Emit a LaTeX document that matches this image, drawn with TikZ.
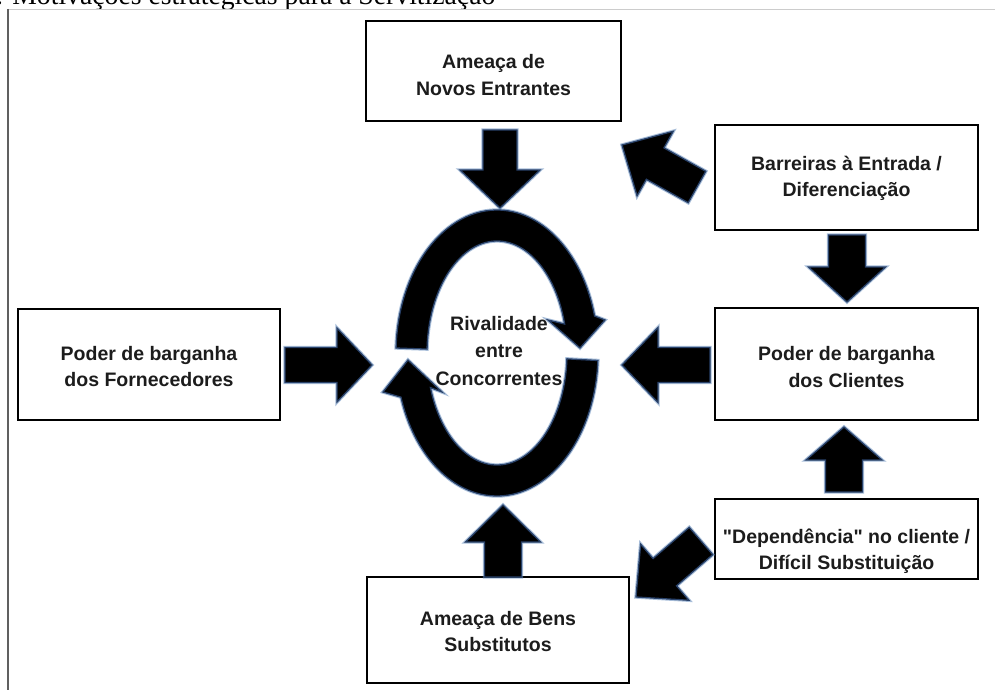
\documentclass[tikz,border=0pt]{standalone}
\usepackage{fontspec}
\setmainfont{Liberation Sans}[Ligatures=TeXOff]
\newfontfamily\titlefont{Liberation Serif}
\usetikzlibrary{calc}
\definecolor{arrowedge}{RGB}{40,65,105}
\definecolor{arrowglow}{RGB}{95,135,185}
\definecolor{textc}{RGB}{28,28,28}
\tikzset{
  box/.style={draw=black, line width=2.8pt, fill=white, inner sep=0pt},
  boxtext/.style={align=center, inner sep=0pt,
    font=\fontsize{19.5}{26.5}\selectfont\bfseries, text=textc},
  blockarrow/.style={fill=black, draw=arrowedge, line width=1.3pt, line join=miter,
    preaction={draw=arrowglow, line width=3.4pt, opacity=0.55}},
}
\newcommand\blkarrow[5]{% tail, tip, shaft half width, head half width, head length
  \coordinate (ba-h) at ($(#2)!#5!(#1)$);
  \draw[blockarrow] ($(#1)!#3!90:(#2)$) -- ($(ba-h)!#3!90:(#2)$) -- ($(ba-h)!#4!90:(#2)$)
    -- (#2) -- ($(ba-h)!#4!-90:(#2)$) -- ($(ba-h)!#3!-90:(#2)$) -- ($(#1)!#3!-90:(#2)$) -- cycle;
}
\begin{document}
\begin{tikzpicture}[x=1pt,y=-1pt]
\useasboundingbox (0,0) rectangle (995,690);
\clip (0,0) rectangle (995,690);
% title and frame
\node[anchor=base west, inner sep=0pt, font=\titlefont\fontsize{27.7}{30}\selectfont] (title) at (-4,5) {. Motivações estratégicas para a Servitização};
\draw[gray!40, line width=1.6pt] (7,9.5) -- (995,9.5);
\draw[gray!75!black, line width=2pt] (7.5,9) -- (7.5,690);

% boxes
\node[box, minimum width=255pt, minimum height=100pt] (novos) at (493.5,71) {};
\node[box, minimum width=263pt, minimum height=105pt] (barreiras) at (846.5,177.5) {};
\node[box, minimum width=263pt, minimum height=112pt] (clientes) at (846.5,364) {};
\node[box, minimum width=263pt, minimum height=80pt] (depend) at (846.5,539) {};
\node[box, minimum width=262pt, minimum height=111pt] (fornec) at (149,364.5) {};
\node[box, minimum width=262pt, minimum height=106pt] (bens) at (498,630) {};
\node[boxtext] (novos-t) at ($(novos.center)+(0,4)$) {Ameaça de\\Novos Entrantes};
\node[boxtext] (barreiras-t) at ($(barreiras.center)+(0,1)$) {Barreiras à Entrada /\\Diferenciação};
\node[boxtext] (clientes-t) at ($(clientes.center)+(0,3)$) {Poder de barganha\\dos Clientes};
\node[boxtext] (depend-t) at ($(depend.center)+(0,12)$) {"Dependência" no cliente /\\Difícil Substituição};
\node[boxtext] (fornec-t) at ($(fornec.center)+(0,2)$) {Poder de barganha\\dos Fornecedores};
\node[boxtext] (bens-t) at ($(bens.center)+(0,1.5)$) {Ameaça de Bens\\Substitutos};

% block arrows
\coordinate (t1) at (500,130); \coordinate (p1) at (500,208);
\coordinate (t2) at (697,187); \coordinate (p2) at (622,145);
\coordinate (t3) at (847,235); \coordinate (p3) at (847,302);
\coordinate (t4) at (710,365); \coordinate (p4) at (622,365);
\coordinate (t5) at (285,365); \coordinate (p5) at (372,365);
\coordinate (t6) at (844,492); \coordinate (p6) at (844,427);
\coordinate (t7) at (701,541); \coordinate (p7) at (636,597);
\coordinate (t8) at (503,577); \coordinate (p8) at (503,505);
\blkarrow{t1}{p1}{17pt}{40pt}{38pt}
\blkarrow{t2}{p2}{18pt}{37pt}{38pt}
\blkarrow{t3}{p3}{18.5pt}{38.5pt}{35pt}
\blkarrow{t4}{p4}{17.5pt}{37.5pt}{36pt}
\blkarrow{t5}{p5}{17.5pt}{37pt}{35pt}
\blkarrow{t6}{p6}{18.5pt}{38pt}{33pt}
\blkarrow{t7}{p7}{18pt}{37pt}{38pt}
\blkarrow{t8}{p8}{18.5pt}{37.5pt}{37pt}

% ring of rivalry
\coordinate (C) at (497,353);
\draw[blockarrow] ($(C)+(182:101 and 143)$) arc[start angle=182, end angle=345, x radius=101, y radius=143]
  -- (605,320) -- (580,348) -- (548,320) -- ($(C)+(345:70 and 112)$)
  arc[start angle=345, end angle=182, x radius=70, y radius=112] -- cycle;
\draw[blockarrow] ($(C)+(3:101 and 143)$) arc[start angle=3, end angle=162, x radius=101, y radius=143]
  -- (383,392) -- (408,360) -- (442,392) -- ($(C)+(162:70 and 112)$)
  arc[start angle=162, end angle=3, x radius=70, y radius=112] -- cycle;
\node[boxtext, font=\fontsize{19.5}{27.5}\selectfont\bfseries] (rival) at (499,351) {Rivalidade\\entre\\Concorrentes};
\end{tikzpicture}
\end{document}
